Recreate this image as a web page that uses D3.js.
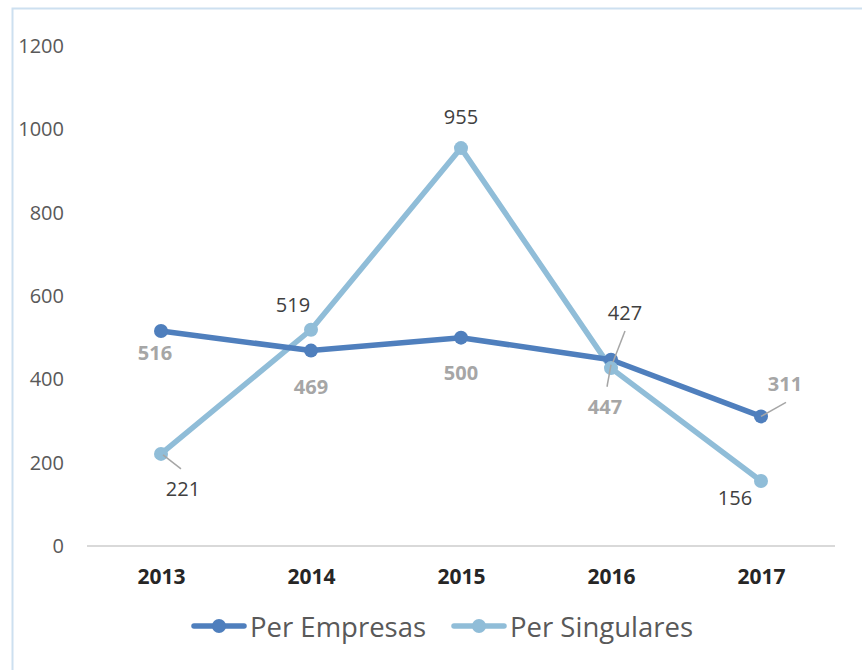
<!DOCTYPE html>
<html><head><meta charset="utf-8">
<script src="https://cdn.jsdelivr.net/npm/d3@7"></script>
<style>body{margin:0;background:#fff}svg{display:block}</style>
</head><body>
<script>
const years = ["2013","2014","2015","2016","2017"];
const empresas = [516, 469, 500, 447, 311];
const singulares = [221, 519, 955, 427, 156];
const yTicks = [0, 200, 400, 600, 800, 1000, 1200];
const seriesNames = ["Per Empresas", "Per Singulares"];
// label offsets (dx, dy of label centre from point) and leader lines
const empLabelOff = [[-6, 21], [0, 36], [0, 35], [-6, 47], [24, -33]];
const singLabelOff = [[22, 35], [-18, -25], [0, -32], [14, -56], [-26, 16]];
const empLeader = [null, null, null, [-4, 27, 0, 5], [25, -14, 0, 0]];
const singLeader = [[2, 1, 20, 15], null, null, [14, -37, 2, -6], null];

const W = 862, H = 670;
const svg = d3.select("body").append("svg").attr("width", W).attr("height", H);
svg.append("rect").attr("x", 12.5).attr("y", 8.5).attr("width", 900).attr("height", 700)
  .attr("fill", "none").attr("stroke", "#cde0f0").attr("stroke-width", 2);

const x = d3.scalePoint().domain(years).range([86, 836]).padding(0.5);
const y = d3.scaleLinear().domain([0, 1200]).range([546, 46]);

// y tick labels
const yAxis = svg.append("g").attr("transform", "translate(70,0)")
  .call(d3.axisLeft(y).tickValues(yTicks).tickSize(0).tickPadding(6).tickFormat(d3.format("d")));
yAxis.select(".domain").remove();
yAxis.selectAll("text").attr("font-family", "Open Sans").attr("font-size", 20).attr("fill", "#595959");

// baseline
svg.append("line").attr("x1", 87).attr("x2", 835).attr("y1", y(0)).attr("y2", y(0))
  .attr("stroke", "#d9d9d9").attr("stroke-width", 2);

// x axis labels
const xAxis = svg.append("g").attr("transform", `translate(0,${y(0)})`)
  .call(d3.axisBottom(x).tickSize(0).tickPadding(23));
xAxis.select(".domain").remove();
xAxis.selectAll("text").attr("font-family", "Open Sans").attr("font-weight", "bold")
  .attr("font-size", 21).attr("fill", "#262626");

const colors = ["#4f7fbd", "#90bdd8"];
const line = d3.line().x((d, i) => x(years[i])).y(d => y(d));
[singulares, empresas].forEach((s, k) => {
  const c = k === 0 ? colors[1] : colors[0];
  svg.append("path").datum(s).attr("d", line).attr("fill", "none")
    .attr("stroke", c).attr("stroke-width", 5.5).attr("stroke-linejoin", "round");
});
[empresas, singulares].forEach((s, k) => {
  svg.append("g").selectAll("circle").data(s).join("circle")
    .attr("cx", (d, i) => x(years[i])).attr("cy", d => y(d)).attr("r", 7).attr("fill", colors[k]);
});

// leader lines
function leaders(s, L) {
  svg.append("g").selectAll("line").data(s.map((d, i) => ({d, i, l: L[i]})).filter(o => o.l)).join("line")
    .attr("x1", o => x(years[o.i]) + o.l[0]).attr("y1", o => y(o.d) + o.l[1])
    .attr("x2", o => x(years[o.i]) + o.l[2]).attr("y2", o => y(o.d) + o.l[3])
    .attr("stroke", "#a6a6a6").attr("stroke-width", 1.5);
}
leaders(empresas, empLeader);
leaders(singulares, singLeader);

// data labels
svg.append("g").selectAll("text").data(empresas).join("text")
  .attr("x", (d, i) => x(years[i]) + empLabelOff[i][0]).attr("y", (d, i) => y(d) + empLabelOff[i][1])
  .attr("text-anchor", "middle").attr("dominant-baseline", "central")
  .attr("font-family", "Open Sans").attr("font-weight", "bold").attr("font-size", 20).attr("fill", "#a6a6a6")
  .text(d => d);
svg.append("g").selectAll("text").data(singulares).join("text")
  .attr("x", (d, i) => x(years[i]) + singLabelOff[i][0]).attr("y", (d, i) => y(d) + singLabelOff[i][1])
  .attr("text-anchor", "middle").attr("dominant-baseline", "central")
  .attr("font-family", "Open Sans").attr("font-size", 20).attr("fill", "#404040")
  .text(d => d);

// legend
const lg = svg.append("g").attr("transform", "translate(192,626)");
const legX = [0, 260];
seriesNames.forEach((n, k) => {
  const g = lg.append("g").attr("transform", `translate(${legX[k]},0)`);
  g.append("line").attr("x1", 2).attr("x2", 52).attr("stroke", colors[k]).attr("stroke-width", 5.5).attr("stroke-linecap", "round");
  g.append("circle").attr("cx", 27).attr("r", 7).attr("fill", colors[k]);
  g.append("text").attr("x", 58).attr("dominant-baseline", "central").attr("font-family", "Open Sans")
    .attr("font-size", 27.5).attr("fill", "#595959").text(n);
});
</script>
</body></html>
